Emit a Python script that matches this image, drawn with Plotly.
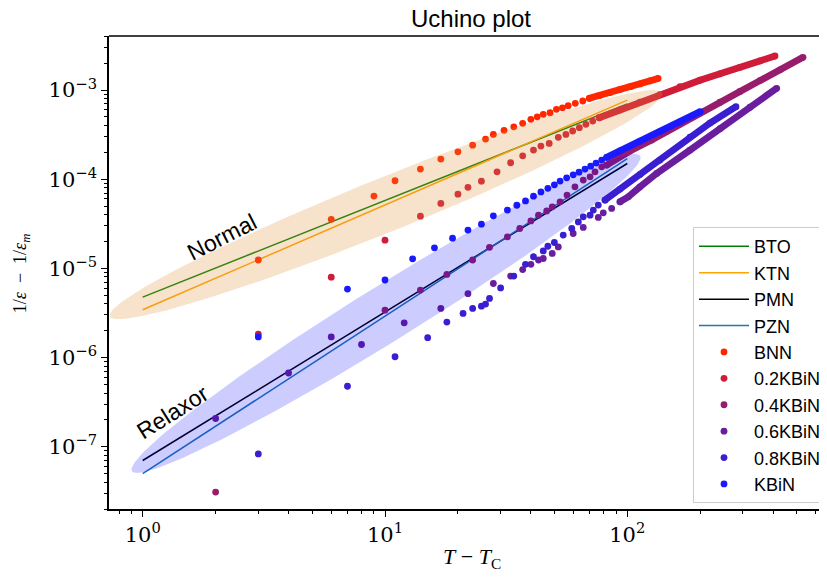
import numpy as np
import plotly.graph_objects as go

# ---------------- data ----------------
fit_x = [1, 100]
bto_y = [4.76e-6, 7.0e-4]
ktn_y = [3.43e-6, 7.7e-4]
pmn_y = [7.0e-8, 1.5e-4]
pzn_y = [4.98e-8, 1.7e-4]

bnn_x = [3, 6, 9, 11, 14, 17, 20, 23, 26, 28, 31, 34, 37, 40, 42.5, 45, 48, 51, 54, 57, 61, 65.5, 69.7]
bnn_y = [1.24e-5, 3.55e-5, 6.47e-5, 9.6e-5, 1.3e-4, 1.68e-4, 2.03e-4, 2.41e-4, 2.82e-4, 3.18e-4,
         3.53e-4, 3.87e-4, 4.23e-4, 4.69e-4, 5.0e-4, 5.34e-4, 5.56e-4, 6.07e-4, 6.32e-4, 6.67e-4,
         7.1e-4, 7.53e-4, 8.07e-4]
bnn_band_x = [69.7, 77, 85, 93, 103, 113, 124, 134]
bnn_band_y = [8.07e-4, 8.7e-4, 9.37e-4, 1.01e-3, 1.09e-3, 1.17e-3, 1.27e-3, 1.35e-3]

k02_x = [3, 6, 10, 14, 17, 20, 22, 25, 29, 33, 37, 41, 44, 47.6, 51.9, 55.8, 59.5, 63.4, 67.5, 72, 76.6]
k02_y = [1.83e-6, 7.96e-6, 2.07e-5, 3.85e-5, 5.35e-5, 6.8e-5, 8.1e-5, 9.5e-5, 1.21e-4, 1.53e-4,
         1.83e-4, 2.12e-4, 2.35e-4, 2.52e-4, 2.95e-4, 3.18e-4, 3.47e-4, 3.78e-4, 4.12e-4, 4.49e-4, 4.89e-4]
k02_band_x = [76.6, 93.3, 112.8, 136.4, 165.1, 199.5, 241.3, 291.8, 352.8, 407]
k02_band_y = [4.89e-4, 5.99e-4, 7.31e-4, 8.9e-4, 1.089e-3, 1.288e-3, 1.519e-3, 1.798e-3, 2.127e-3, 2.407e-3]

k04_x = [2, 10, 14, 18, 23, 27, 32, 36, 40, 43, 46.5, 49, 52.8, 56.4, 60.8, 65.8, 70.2, 73.6, 78.4, 82.2]
k04_y = [3.1e-8, 3.4e-6, 5.7e-6, 8.55e-6, 1.24e-5, 1.72e-5, 2.26e-5, 2.8e-5, 3.4e-5, 3.95e-5,
         4.4e-5, 4.9e-5, 5.58e-5, 6.64e-5, 8.21e-5, 9.77e-5, 1.064e-4, 1.21e-4, 1.377e-4, 1.44e-4]
k04_band_x = [82.2, 90.4, 102.6, 126, 165.1, 199.5, 241.3, 291.8, 352.8, 426.8, 531]
k04_band_y = [1.44e-4, 1.71e-4, 2.07e-4, 2.75e-4, 4.18e-4, 5.52e-4, 7.3e-4, 9.64e-4, 1.275e-3, 1.685e-3, 2.33e-3]

k06_x = [2, 4, 6, 8, 12, 17, 22, 28, 33, 37, 40, 43, 45, 49, 51.9, 59.8, 65.8, 75.9, 79.6, 86.2, 93.3]
k06_y = [2.07e-7, 6.7e-7, 1.7e-6, 1.4e-6, 2.45e-6, 3.55e-6, 5.2e-6, 6.76e-6, 8.2e-6, 9.7e-6,
         1.11e-5, 1.24e-5, 1.29e-5, 1.47e-5, 1.74e-5, 2.46e-5, 2.88e-5, 3.73e-5, 4.2e-5, 4.7e-5, 5.58e-5]
k06_band_x = [93.3, 101, 112.8, 132.2, 181.5, 241.3, 320.9, 413.6]
k06_band_y = [5.58e-5, 6.34e-5, 8.21e-5, 1.162e-4, 2.12e-4, 3.69e-4, 6.41e-4, 1.045e-3]

k08_x = [3, 7, 11, 15, 18, 21, 23, 25, 26, 27, 30, 34, 38, 41, 45, 47, 50, 54.4, 59, 62.8, 65.8,
         70.2, 72.4, 75.9, 80.9]
k08_y = [8.3e-8, 4.76e-7, 1.02e-6, 1.67e-6, 2.5e-6, 3.12e-6, 3.55e-6, 3.77e-6, 3.98e-6, 4.6e-6,
         6.04e-6, 8.2e-6, 1.11e-5, 1.35e-5, 1.57e-5, 1.77e-5, 1.95e-5, 2.36e-5, 2.8e-5, 3.32e-5,
         3.78e-5, 3.95e-5, 4.5e-5, 5.12e-5, 5.83e-5]
k08_band_x = [80.9, 93.3, 112.8, 136.4, 181.5, 219.4, 280.9]
k08_band_y = [5.83e-5, 7.74e-5, 1.126e-4, 1.638e-4, 2.97e-4, 4.26e-4, 6.5e-4]

kbin_x = [3, 7, 10, 13, 16, 19, 22, 25, 28, 32, 35, 38, 41, 44, 47, 50, 52.8, 56.2, 59.8, 63.2,
          66.9, 70.6, 74.3, 78.4, 82.2]
kbin_y = [1.7e-6, 5.85e-6, 7.4e-6, 1.28e-5, 1.7e-5, 2.18e-5, 2.69e-5, 3.13e-5, 3.88e-5, 4.5e-5,
          5.1e-5, 5.7e-5, 6.45e-5, 7.2e-5, 7.9e-5, 8.65e-5, 9.52e-5, 1.037e-4, 1.12e-4, 1.2e-4,
          1.3e-4, 1.4e-4, 1.516e-4, 1.638e-4, 1.757e-4]
kbin_band_x = [82.2, 93.3, 112.8, 136.4, 165.1, 199.9]
kbin_band_y = [1.757e-4, 2.07e-4, 2.66e-4, 3.42e-4, 4.39e-4, 5.72e-4]

x_tick_vals = [1, 10, 100]
x_tick_text = ["10<sup>0</sup>", "10<sup>1</sup>", "10<sup>2</sup>"]
y_tick_vals = [1e-7, 1e-6, 1e-5, 1e-4, 1e-3]
y_tick_text = ["10<sup>−7</sup>", "10<sup>−6</sup>", "10<sup>−5</sup>", "10<sup>−4</sup>", "10<sup>−3</sup>"]

# ---------------- layout constants ----------------
OFF = 8                      # page body margin of the html page
W, H = 827 - OFF, 577 - OFF
ML, MR, MT, MB = 109 - OFF, 0, 36 - OFF, 68.4
XR = [-0.1391, 2.8242]
YR = [-7.699, -2.394]
PLOT_W = W - ML - MR
PLOT_H = H - MT - MB
PXX = PLOT_W / (XR[1] - XR[0])
PXY = PLOT_H / (YR[1] - YR[0])


def px2paper(px, py):
    return (px - OFF - ML) / PLOT_W, (H - MB - (py - OFF)) / PLOT_H


def ellipse(cx, cy, a_px, b_px, ang_deg, n=240):
    t = np.linspace(0, 2 * np.pi, n)
    th = np.radians(ang_deg)
    dx = a_px * np.cos(t) * np.cos(th) - b_px * np.sin(t) * np.sin(th)
    dy = a_px * np.cos(t) * np.sin(th) + b_px * np.sin(t) * np.cos(th)
    return 10 ** (np.log10(cx) + dx / PXX), 10 ** (np.log10(cy) + dy / PXY)


def minor_vals(e0, e1):
    return [m * 10.0 ** e for e in range(e0, e1) for m in range(2, 10)]


fig = go.Figure()

line_specs = [("BTO", bto_y, "#008000"), ("KTN", ktn_y, "#ffa500"),
              ("PMN", pmn_y, "#000000"), ("PZN", pzn_y, "#1f77b4")]
for name, ys, col in line_specs:
    fig.add_trace(go.Scatter(x=fit_x, y=ys, mode="lines", name=name,
                             line=dict(color=col, width=1.5), hoverinfo="skip"))

series = [
    ("BNN", bnn_x, bnn_y, bnn_band_x, bnn_band_y, "#ff2600"),
    ("0.2KBiN", k02_x, k02_y, k02_band_x, k02_band_y, "#d01c38"),
    ("0.4KBiN", k04_x, k04_y, k04_band_x, k04_band_y, "#981c6c"),
    ("0.6KBiN", k06_x, k06_y, k06_band_x, k06_band_y, "#6a1e9e"),
    ("0.8KBiN", k08_x, k08_y, k08_band_x, k08_band_y, "#3a1ed2"),
    ("KBiN", kbin_x, kbin_y, kbin_band_x, kbin_band_y, "#1a1aff"),
]
MS = 6.8
for name, xs, ys, bx, by, col in series:
    fig.add_trace(go.Scatter(x=xs, y=ys, mode="markers", name=name,
                             marker=dict(color=col, size=MS, line=dict(width=0))))
    fig.add_trace(go.Scatter(x=bx, y=by, mode="lines+markers", showlegend=False,
                             line=dict(color=col, width=MS),
                             marker=dict(color=col, size=MS, line=dict(width=0))))

# shaded ellipses (drawn on top, translucent)
ex, ey = ellipse(10.1, 5.19e-5, 298, 27, 22.0)
fig.add_trace(go.Scatter(x=ex, y=ey, mode="lines", fill="toself", showlegend=False,
                         line=dict(width=0), fillcolor="rgba(222,140,50,0.25)", hoverinfo="skip"))
ex, ey = ellipse(10.1, 3.12e-6, 299, 28, 31.8)
fig.add_trace(go.Scatter(x=ex, y=ey, mode="lines", fill="toself", showlegend=False,
                         line=dict(width=0), fillcolor="rgba(0,0,255,0.2)", hoverinfo="skip"))

serif = "DejaVu Serif, Liberation Serif, serif"
sans = "Liberation Sans, Arial, sans-serif"

axis_common = dict(type="log", showgrid=False, zeroline=False, showline=True, automargin=False,
                   linecolor="black", linewidth=1.6, ticks="outside", ticklen=6,
                   tickwidth=1.2, tickcolor="black", tickmode="array",
                   tickfont=dict(family=serif, size=21, color="black"))

fig.update_layout(
    width=W, height=H,
    margin=dict(l=ML, r=MR, t=MT, b=MB, pad=0, autoexpand=False),
    paper_bgcolor="white", plot_bgcolor="white",
    xaxis=dict(range=XR, tickvals=x_tick_vals, ticktext=x_tick_text,
               minor=dict(tickmode="array", tickvals=minor_vals(-1, 3), ticks="outside",
                          ticklen=3.5, tickwidth=0.9, tickcolor="black", showgrid=False),
               **axis_common),
    yaxis=dict(range=YR, tickvals=y_tick_vals, ticktext=y_tick_text,
               minor=dict(tickmode="array", tickvals=minor_vals(-8, -2), ticks="outside",
                          ticklen=3.5, tickwidth=0.9, tickcolor="black", showgrid=False),
               **axis_common),
    showlegend=True,
    legend=dict(x=1, y=px2paper(0, 227)[1], xanchor="right", yanchor="top",
                bgcolor="white", bordercolor="#cccccc", borderwidth=1,
                font=dict(family=sans, size=18, color="black"),
                itemwidth=50, tracegroupgap=0),
    font=dict(family=sans, color="black"),
    title=dict(text="Uchino plot", xref="container", yref="container",
               x=(471 - OFF) / W, y=1, xanchor="center", yanchor="top",
               pad=dict(t=2), font=dict(family=sans, size=24, color="black")),
)

# top spine
fig.add_shape(type="line", xref="paper", yref="paper", x0=0, x1=1, y0=1, y1=1,
              line=dict(color="black", width=1.6))

C = dict(xref="paper", yref="paper", showarrow=False, xanchor="center", yanchor="middle")
x, y = px2paper(222, 237)
fig.add_annotation(text="Normal", x=x, y=y, textangle=-27,
                   font=dict(family=sans, size=23, color="black"), **C)
x, y = px2paper(173, 412)
fig.add_annotation(text="Relaxor", x=x, y=y, textangle=-32,
                   font=dict(family=sans, size=23, color="black"), **C)
x, y = px2paper(472, 558)
fig.add_annotation(text="<i>T</i> − <i>T</i><sub>C</sub>", x=x, y=y,
                   font=dict(family="Liberation Serif, serif", size=22, color="black"), **C)
x, y = px2paper(21, 274)
fig.add_annotation(text="1/<i>ε</i>  −  1/<i>ε</i><sub><i>m</i></sub>", x=x, y=y, textangle=-90,
                   font=dict(family="Liberation Serif, serif", size=18, color="black"), **C)

fig.write_html("out.html")
